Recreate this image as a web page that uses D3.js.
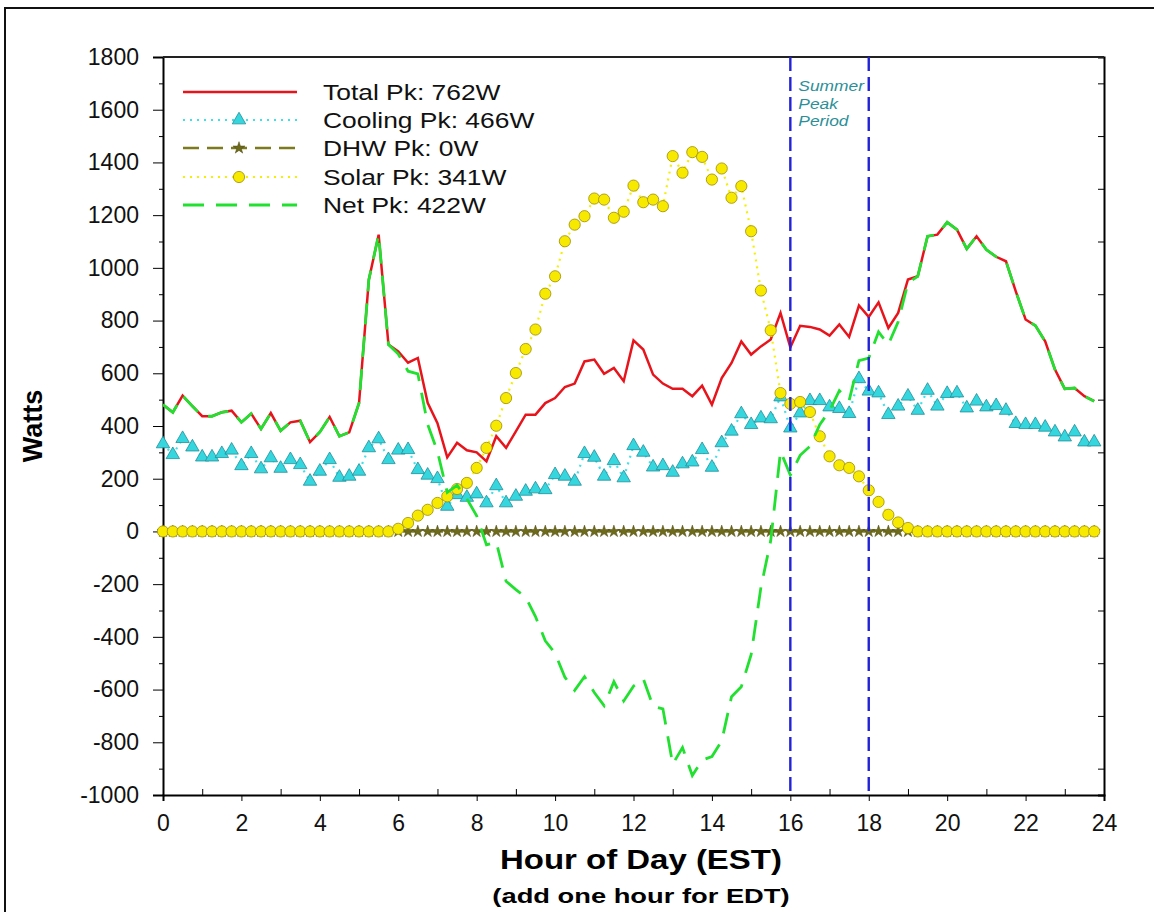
<!DOCTYPE html>
<html>
  <head>
    <meta charset="UTF-8" />
    <script src="https://d3js.org/d3.v7.min.js"></script>
    <style>
      body { margin: 0; background: #fff; }
      text { font-family: "Liberation Sans", Arial, sans-serif; }
    </style>
  </head>
  <body>
    <div id="chart"></div>

    <script>
      // 15-minute time steps, hour 0 .. 23.75
      var hours = d3.range(0, 24, 0.25);

      var total = [
        481, 452, 515, 475, 437, 437, 452, 458, 414, 447, 389, 449, 382, 414, 420, 339,
        377, 434, 361, 376, 487, 955, 1126, 709, 683, 640, 658, 488, 411, 281, 336, 308,
        300, 266, 361, 317, 380, 443, 443, 487, 506, 548, 561, 645, 652, 598, 620, 570,
        725, 690, 595, 561, 541, 541, 513, 553, 481, 582, 639, 721, 671, 702, 728, 829,
        698, 780, 776, 766, 743, 785, 738, 857, 814, 869, 772, 829, 956, 968, 1120, 1126,
        1173, 1145, 1072, 1120, 1069, 1042, 1025, 911, 804, 781, 721, 614, 541, 544, 513, 494
      ];
      var cooling = [
        332, 291, 352, 320, 282, 282, 295, 308, 249, 295, 237, 279, 239, 272, 253, 190,
        228, 272, 205, 209, 228, 317, 351, 272, 308, 310, 234, 213, 200, 95, 139, 129,
        142, 108, 173, 108, 133, 152, 161, 158, 215, 209, 190, 295, 281, 209, 268, 203,
        325, 300, 244, 249, 224, 256, 263, 310, 243, 336, 380, 446, 405, 430, 427, 510,
        392, 449, 496, 496, 472, 466, 447, 579, 532, 525, 443, 475, 513, 459, 535, 475,
        523, 525, 468, 494, 472, 477, 459, 409, 405, 405, 395, 377, 358, 377, 339, 339
      ];
      var dhw = [
        0, 0, 0, 0, 0, 0, 0, 0, 0, 0, 0, 0, 0, 0, 0, 0,
        0, 0, 0, 0, 0, 0, 0, 0, 0, 0, 0, 0, 0, 0, 0, 0,
        0, 0, 0, 0, 0, 0, 0, 0, 0, 0, 0, 0, 0, 0, 0, 0,
        0, 0, 0, 0, 0, 0, 0, 0, 0, 0, 0, 0, 0, 0, 0, 0,
        0, 0, 0, 0, 0, 0, 0, 0, 0, 0, 0, 0, 0, 0, 0, 0,
        0, 0, 0, 0, 0, 0, 0, 0, 0, 0, 0, 0, 0, 0, 0, 0
      ];
      var solar = [
        0, 0, 0, 0, 0, 0, 0, 0, 0, 0, 0, 0, 0, 0, 0, 0,
        0, 0, 0, 0, 0, 0, 0, 0, 10, 32, 60, 82, 108, 133, 161, 184,
        241, 317, 401, 506, 601, 692, 766, 902, 968, 1101, 1164, 1196, 1263, 1259, 1190, 1213,
        1312, 1249, 1259, 1234, 1424, 1361, 1439, 1421, 1335, 1377, 1266, 1310, 1139, 914, 763, 525,
        484, 491, 453, 361, 285, 251, 241, 209, 156, 112, 63, 34, 13, 0, 0, 0,
        0, 0, 0, 0, 0, 0, 0, 0, 0, 0, 0, 0, 0, 0, 0, 0
      ];
      var net = [
        481, 452, 515, 475, 437, 437, 452, 458, 414, 447, 389, 449, 382, 414, 420, 339,
        377, 434, 361, 376, 487, 955, 1126, 709, 673, 608, 598, 406, 303, 148, 175, 124,
        59, -51, -40, -189, -221, -249, -323, -415, -462, -553, -603, -551, -611, -661, -570, -643,
        -587, -559, -664, -673, -883, -820, -926, -868, -854, -795, -627, -589, -468, -212, -35, 304,
        214, 289, 323, 405, 458, 534, 497, 648, 658, 757, 709, 795, 943, 968, 1120, 1126,
        1173, 1145, 1072, 1120, 1069, 1042, 1025, 911, 804, 781, 721, 614, 541, 544, 513, 494
      ];

      var legendLabels = ["Total Pk: 762W", "Cooling Pk: 466W", "DHW Pk: 0W", "Solar Pk: 341W", "Net Pk: 422W"];
      var xTicks = [0, 2, 4, 6, 8, 10, 12, 14, 16, 18, 20, 22, 24];
      var yTicks = [-1000, -800, -600, -400, -200, 0, 200, 400, 600, 800, 1000, 1200, 1400, 1600, 1800];
      var peakHours = [16, 18];
      var peakLabel = ["Summer", "Peak", "Period"];

      var W = 1154, H = 912;

      var svg = d3.select("#chart").append("svg")
        .attr("width", W).attr("height", H);

      // outer frame (only top/left visible in the crop)
      svg.append("path")
        .attr("d", "M5,920 L5,8 L1160,8")
        .attr("fill", "none").attr("stroke", "#111").attr("stroke-width", 2);

      var x = d3.scaleLinear().domain([0, 24]).range([163, 1104]);
      var y = d3.scaleLinear().domain([-1000, 1800]).range([795, 57]);

      // the original picture is stretched sideways a bit, so wide texts get widened
      function stretch(sel, k) {
        sel.each(function () {
          var len = this.getComputedTextLength();
          d3.select(this).attr("textLength", len * k).attr("lengthAdjust", "spacingAndGlyphs");
        });
      }

      var g = svg.append("g");

      // axes
      g.append("g").attr("transform", "translate(0,795)")
        .call(d3.axisBottom(x).tickValues(xTicks).tickSize(6).tickPadding(14).tickFormat(function (d) { return String(d); }))
        .call(function (a) {
          a.select(".domain").attr("stroke-width", 2);
          a.selectAll("text").attr("font-size", 23).attr("fill", "#111");
        });
      g.append("g").attr("transform", "translate(0,795)")
        .call(d3.axisBottom(x).tickValues(d3.range(1, 24, 2)).tickSize(-6).tickFormat(""))
        .call(function (a) { a.select(".domain").remove(); });

      g.append("g").attr("transform", "translate(163,0)")
        .call(d3.axisLeft(y).tickValues(yTicks).tickSize(10).tickPadding(14).tickFormat(function (d) { return String(d); }))
        .call(function (a) {
          a.select(".domain").attr("stroke-width", 2);
          a.selectAll("text").attr("font-size", 23).attr("fill", "#111");
        });
      g.append("g").attr("transform", "translate(163,0)")
        .call(d3.axisLeft(y).tickValues(d3.range(-900, 1800, 200)).tickSize(4).tickFormat(""))
        .call(function (a) { a.select(".domain").remove(); });

      g.append("g").attr("transform", "translate(1104,0)")
        .call(d3.axisRight(y).tickValues(d3.range(-900, 1800, 200)).tickSize(-6).tickFormat(""))
        .call(function (a) { a.select(".domain").attr("stroke-width", 2); });
      g.append("line")
        .attr("x1", 163).attr("x2", 1104).attr("y1", 57).attr("y2", 57)
        .attr("stroke", "#222").attr("stroke-width", 2);

      // axis titles
      svg.append("text")
        .attr("transform", "translate(42,426) rotate(-90)")
        .attr("text-anchor", "middle")
        .attr("font-size", 27).attr("font-weight", "bold")
        .text("Watts");
      svg.append("text")
        .attr("x", 641).attr("y", 869)
        .attr("text-anchor", "middle")
        .attr("font-size", 27).attr("font-weight", "bold")
        .text("Hour of Day (EST)")
        .call(stretch, 1.22);
      svg.append("text")
        .attr("x", 641).attr("y", 903)
        .attr("text-anchor", "middle")
        .attr("font-size", 21).attr("font-weight", "bold")
        .text("(add one hour for EDT)")
        .call(stretch, 1.3);

      function pts(vals) {
        return vals.map(function (v, i) { return [hours[i], v]; });
      }
      var line = d3.line().x(function (d) { return x(d[0]); }).y(function (d) { return y(d[1]); });

      var styles = [
        { stroke: "#e8141c", width: 2.5, dash: null },
        { stroke: "#3fe0ea", width: 2.2, dash: "2,5" },
        { stroke: "#7d7a1e", width: 2.4, dash: "16,8" },
        { stroke: "#f5f000", width: 2.2, dash: "2,5" },
        { stroke: "#22e030", width: 2.8, dash: "21,12" }
      ];

      var triangle = d3.symbol().type(d3.symbolTriangle).size(78);
      var star = d3.symbol().type(d3.symbolStar).size(45);

      // Total
      g.append("path").datum(pts(total)).attr("d", line)
        .attr("fill", "none").attr("stroke", styles[0].stroke).attr("stroke-width", styles[0].width);

      // Cooling
      g.append("path").datum(pts(cooling)).attr("d", line)
        .attr("fill", "none").attr("stroke", styles[1].stroke).attr("stroke-width", styles[1].width)
        .attr("stroke-dasharray", styles[1].dash);
      g.append("g").selectAll("path").data(pts(cooling)).join("path")
        .attr("d", triangle)
        .attr("transform", function (d) { return "translate(" + x(d[0]) + "," + y(d[1]) + ")"; })
        .attr("fill", "#36d6df").attr("stroke", "#1f8f98").attr("stroke-width", 0.8);

      // DHW
      g.append("path").datum(pts(dhw)).attr("d", line)
        .attr("fill", "none").attr("stroke", styles[2].stroke).attr("stroke-width", styles[2].width)
        .attr("stroke-dasharray", styles[2].dash);
      g.append("g").selectAll("path").data(pts(dhw)).join("path")
        .attr("d", star)
        .attr("transform", function (d) { return "translate(" + x(d[0]) + "," + y(d[1]) + ")"; })
        .attr("fill", "#6e6a1c").attr("stroke", "#4c4910").attr("stroke-width", 0.5);

      // Solar
      g.append("path").datum(pts(solar)).attr("d", line)
        .attr("fill", "none").attr("stroke", styles[3].stroke).attr("stroke-width", styles[3].width)
        .attr("stroke-dasharray", styles[3].dash);
      g.append("g").selectAll("circle").data(pts(solar)).join("circle")
        .attr("cx", function (d) { return x(d[0]); })
        .attr("cy", function (d) { return y(d[1]); })
        .attr("r", 5.6)
        .attr("fill", "#f7ea00").attr("stroke", "#9c8c00").attr("stroke-width", 0.8);

      // Net
      g.append("path").datum(pts(net)).attr("d", line)
        .attr("fill", "none").attr("stroke", styles[4].stroke).attr("stroke-width", styles[4].width)
        .attr("stroke-dasharray", styles[4].dash);

      // summer peak period
      g.selectAll(".peak").data(peakHours).join("line")
        .attr("class", "peak")
        .attr("x1", function (d) { return x(d); }).attr("x2", function (d) { return x(d); })
        .attr("y1", y(1800)).attr("y2", y(-1000))
        .attr("stroke", "#2222d8").attr("stroke-width", 2.4).attr("stroke-dasharray", "14,6");
      g.append("g").selectAll("text").data(peakLabel).join("text")
        .attr("x", x(16) + 8)
        .attr("y", function (d, i) { return 91 + i * 17.5; })
        .attr("font-size", 15.5).attr("font-style", "italic").attr("fill", "#2b8f98")
        .text(function (d) { return d; })
        .call(stretch, 1.12);

      // legend
      var legend = g.append("g");
      var rowY = [92, 120, 148, 177, 205];
      legendLabels.forEach(function (lab, i) {
        var s = styles[i];
        legend.append("line")
          .attr("x1", 183).attr("x2", 297).attr("y1", rowY[i]).attr("y2", rowY[i])
          .attr("stroke", s.stroke).attr("stroke-width", s.width)
          .attr("stroke-dasharray", s.dash);
        if (i === 1) {
          legend.append("path").attr("d", triangle)
            .attr("transform", "translate(239," + rowY[i] + ")")
            .attr("fill", "#36d6df").attr("stroke", "#1f8f98").attr("stroke-width", 0.8);
        }
        if (i === 2) {
          legend.append("path").attr("d", star)
            .attr("transform", "translate(239," + rowY[i] + ")")
            .attr("fill", "#6e6a1c").attr("stroke", "#4c4910").attr("stroke-width", 0.5);
        }
        if (i === 3) {
          legend.append("circle").attr("cx", 239).attr("cy", rowY[i]).attr("r", 5.6)
            .attr("fill", "#f7ea00").attr("stroke", "#9c8c00").attr("stroke-width", 0.8);
        }
        legend.append("text")
          .attr("x", 323).attr("y", rowY[i]).attr("dy", "0.36em")
          .attr("font-size", 22).attr("fill", "#111")
          .text(lab)
          .call(stretch, 1.2);
      });
    </script>
  </body>
</html>
